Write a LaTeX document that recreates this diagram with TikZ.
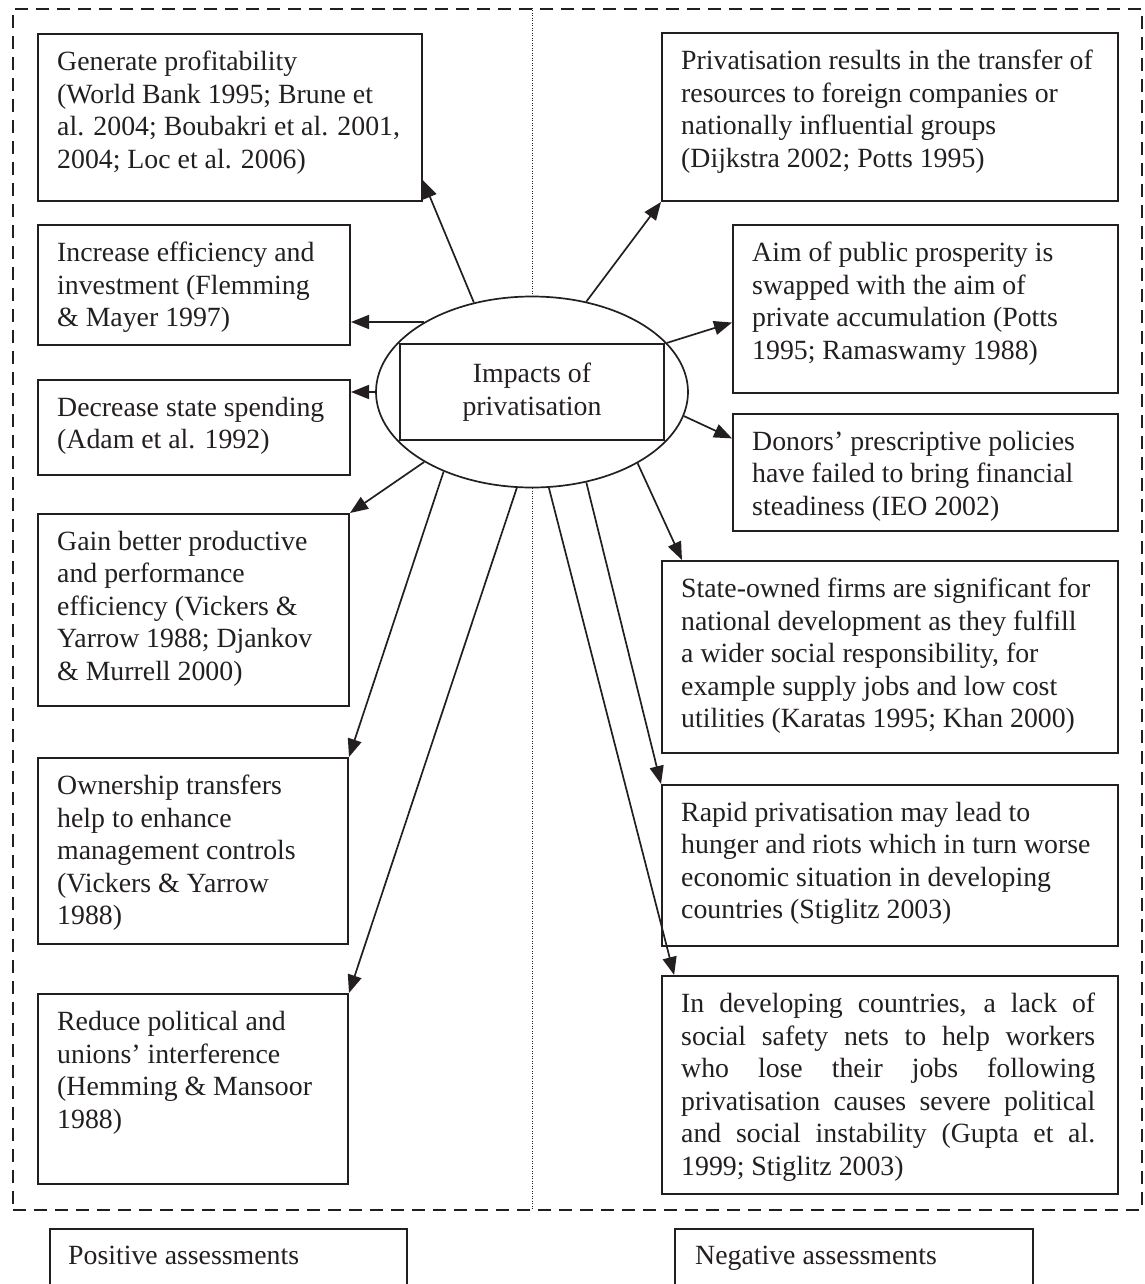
\documentclass[tikz,border=0pt]{standalone}
\usepackage{fontspec}
\setmainfont{Liberation Serif}
\usetikzlibrary{arrows.meta,shapes.geometric,calc}
\definecolor{ink}{RGB}{35,31,32}
\newcommand\mkbox[6]{%
  \node[box, minimum width={#4-#2}, minimum height={#5-#3}] (#1) at (#2,-#3) {};
  \node[txt] (#1t) at ($(#1.north west)+(20,-18)$) {#6};}
\begin{document}
\begin{tikzpicture}[x=1pt,y=1pt,
  box/.style={draw=ink, line width=2pt, anchor=north west, inner sep=0pt},
  txt/.style={anchor=north west, inner sep=0pt, align=left, text=ink,
    font=\fontsize{27.8}{32.5}\selectfont},
  arr/.style={draw=ink, line width=1.7pt, -{Triangle[length=18pt,width=14pt]}},
  frm/.style={draw=ink, line width=1.8pt, dash pattern=on 13pt off 8pt},
  dots/.style={draw=ink, line width=1pt, dash pattern=on 1pt off 1.5pt},
]
\useasboundingbox (0,0) rectangle (1144,-1284);
\clip (0,0) rectangle (1144,-1284);

% frame
\node[frm, anchor=north west, inner sep=0pt, minimum width=1129, minimum height=1201] (frame) at (12,-8) {};

% centre
\node[ellipse, draw=ink, line width=1.7pt, minimum width=312, minimum height=191, inner sep=0pt] (ell) at (532,-392) {};
\node[draw=ink, line width=1.8pt, minimum width=264, minimum height=96, inner sep=0pt,
  align=center, text=ink, font=\fontsize{27.8}{33.5}\selectfont] (core) at (532,-392) {Impacts of\\privatisation};

\draw[dots] (ell.north |- frame.north) -- (ell.north);
\draw[dots] (ell.south) -- (ell.south |- frame.south);

% left boxes
\mkbox{L1}{37}{33}{421}{200}{Generate profitability\\(World Bank 1995; Brune et\\al. 2004; Boubakri et al. 2001,\\2004; Loc et al. 2006)}
\mkbox{L2}{37}{224}{349}{344}{Increase efficiency and\\investment (Flemming\\\& Mayer 1997)}
\mkbox{L3}{37}{379}{349}{474}{Decrease state spending\\(Adam et al. 1992)}
\mkbox{L4}{37}{513}{348}{705}{Gain better productive\\and performance\\efficiency (Vickers \&\\Yarrow 1988; Djankov\\\& Murrell 2000)}
\mkbox{L5}{37}{757}{347}{943}{Ownership transfers\\help to enhance\\management controls\\(Vickers \& Yarrow\\1988)}
\mkbox{L6}{37}{993}{347}{1183}{Reduce political and\\unions’ interference\\(Hemming \& Mansoor\\1988)}

% right boxes
\mkbox{R1}{661}{32}{1117}{200}{Privatisation results in the transfer of\\resources to foreign companies or\\nationally influential groups\\(Dijkstra 2002; Potts 1995)}
\mkbox{R2}{732}{224}{1117}{392}{Aim of public prosperity is\\swapped with the aim of\\private accumulation (Potts\\1995; Ramaswamy 1988)}
\mkbox{R3}{732}{413}{1117}{530}{Donors’ prescriptive policies\\have failed to bring financial\\steadiness (IEO 2002)}
\mkbox{R4}{661}{560}{1117}{752}{State-owned firms are significant for\\national development as they fulfill\\a wider social responsibility, for\\example supply jobs and low cost\\utilities (Karatas 1995; Khan 2000)}
\mkbox{R5}{661}{784}{1117}{945}{Rapid privatisation may lead to\\hunger and riots which in turn worse\\economic situation in developing\\countries (Stiglitz 2003)}
\mkbox{R6}{661}{975}{1117}{1193}{\makebox[414pt][s]{In developing countries, a lack of}\\\makebox[414pt][s]{social safety nets to help workers}\\\makebox[414pt][s]{who lose their jobs following}\\\makebox[414pt][s]{privatisation causes severe political}\\\makebox[414pt][s]{and social instability (Gupta et al.}\\1999; Stiglitz 2003)}

% bottom labels
\node[box, minimum width=357, minimum height=100] (pos) at (49,-1228) {};
\node[txt] (post) at ($(pos.north west)+(19,-18)$) {Positive assessments};
\node[box, minimum width=358, minimum height=100] (neg) at (674,-1228) {};
\node[txt] (negt) at ($(neg.north west)+(21,-18)$) {Negative assessments};

% arrows left
\draw[arr] (ell.123.6) -- (L1.-18.8);
\draw[arr] (ell.147.2) -- (ell.147.2 -| L2.east);
\draw[arr] (ell.180) -- (ell.180 -| L3.east);
\draw[arr] (ell.213.3) -- (L4.north east);
\draw[arr] (ell.222.6) -- (L5.north east);
\draw[arr] (ell.261.8) -- (L6.north east);
% arrows right
\draw[arr] (ell.59) -- (R1.south west);
\draw[arr] (ell.20.5) -- (R2.184.2);
\draw[arr] (ell.-9.3) -- (R3.170.1);
\draw[arr] (ell.-34.8) -- (R4.155.3);
\draw[arr] (ell.-59.3) -- (R5.north west);
\draw[arr] (ell.-80.6) -- (R6.153.6);
\end{tikzpicture}
\end{document}
